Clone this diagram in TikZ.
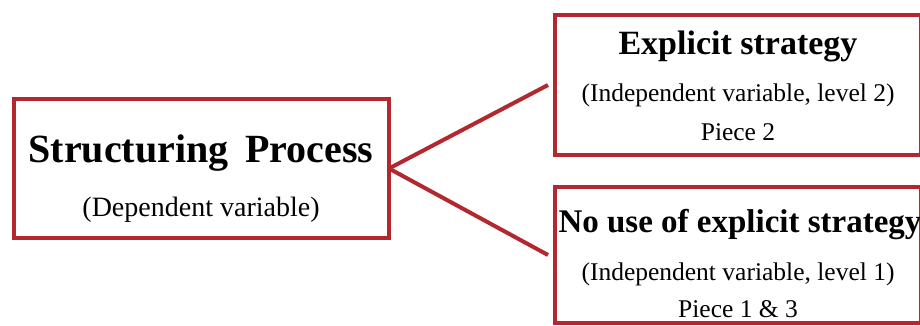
\documentclass[tikz,border=0pt]{standalone}
\usepackage{fontspec}
\setmainfont{Liberation Serif}
\definecolor{boxred}{RGB}{178,40,46}
\begin{document}
\begin{tikzpicture}[x=1pt,y=-1pt,
  redbox/.style={draw=boxred,line width=4pt,rectangle,inner sep=0pt,outer sep=0pt},
  link/.style={draw=boxred,line width=4pt},
  bigtitle/.style={inner sep=0pt,anchor=base,font=\fontsize{40}{44}\selectfont\bfseries},
  title/.style={inner sep=0pt,anchor=base,font=\fontsize{34}{38}\selectfont\bfseries},
  bigsub/.style={inner sep=0pt,anchor=base,font=\fontsize{28}{32}\selectfont},
  sub/.style={inner sep=0pt,anchor=base,font=\fontsize{25.5}{29}\selectfont}]
\useasboundingbox (0,0) rectangle (920,326);
\clip (0,0) rectangle (920,326);
\node[redbox,minimum width=375pt,minimum height=139pt] (left) at (201.5,168.5) {};
\node[redbox,minimum width=366pt,minimum height=140pt] (top) at (738,85) {};
\node[redbox,minimum width=366pt,minimum height=136pt] (bot) at (738,255) {};
\node[bigtitle] (lt) at (201,162) {Structuring\, Process};
\node[bigsub] (ls) at (201,216) {(Dependent variable)};
\node[title] (tt) at (738,55) {Explicit strategy};
\node[sub] (ts) at (738,102) {(Independent variable, level 2)};
\node[sub] (tp) at (738,140) {Piece 2};
\node[title,font=\fontsize{33}{37}\selectfont\bfseries] (bt) at (740,232) {No use of explicit strategy};
\node[sub] (bs) at (738,280) {(Independent variable, level 1)};
\node[sub] (bp) at (738,317) {Piece 1 \& 3};
\draw[link] (left.east) -- ([xshift=-7pt]top.west);
\draw[link] (left.east) -- ([xshift=-7pt]bot.west);
\end{tikzpicture}
\end{document}
